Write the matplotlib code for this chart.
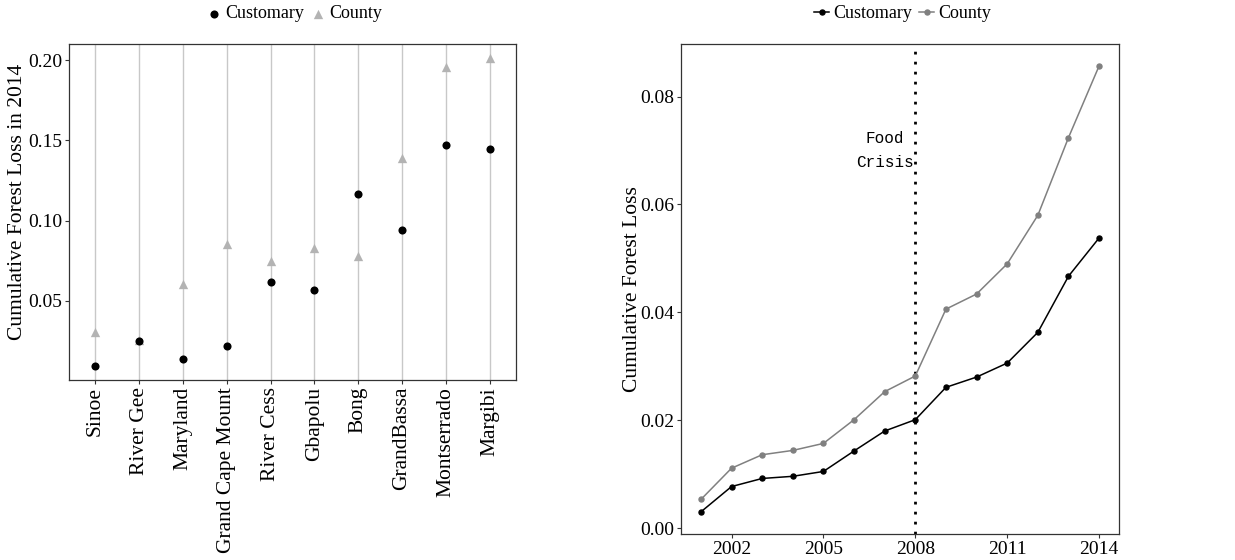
import matplotlib.pyplot as plt
import numpy as np

# left panel: cumulative forest loss in 2014 by county
counties = ["Sinoe", "River Gee", "Maryland", "Grand Cape Mount", "River Cess",
            "Gbapolu", "Bong", "GrandBassa", "Montserrado", "Margibi"]
loss_customary = [0.0096, 0.0252, 0.0140, 0.0215, 0.0614, 0.0564, 0.1163, 0.0938, 0.1468, 0.1443]
loss_county = [0.0306, 0.0255, 0.0606, 0.0853, 0.0747, 0.0828, 0.0780, 0.1389, 0.1954, 0.2010]

# right panel: cumulative forest loss over time
years = list(range(2001, 2015))
cum_customary = [0.0030, 0.0077, 0.0092, 0.0096, 0.0105, 0.0143, 0.0180, 0.0201,
                 0.0261, 0.0280, 0.0306, 0.0363, 0.0467, 0.0538]
cum_county = [0.0053, 0.0111, 0.0136, 0.0144, 0.0157, 0.0201, 0.0253, 0.0282,
              0.0406, 0.0434, 0.0490, 0.0580, 0.0724, 0.0857]
crisis_year = 2008

plt.rcParams['font.family'] = ['Liberation Serif', 'DejaVu Serif']
plt.rcParams['xtick.major.size'] = 3
plt.rcParams['ytick.major.size'] = 3
plt.rcParams['xtick.color'] = '#333333'
plt.rcParams['ytick.color'] = '#333333'
plt.rcParams['xtick.labelcolor'] = 'black'
plt.rcParams['ytick.labelcolor'] = 'black'

TICK = 14
LAB = 15.5
frame = '#333333'

fig = plt.figure(figsize=(12.35, 5.6), dpi=100)

# ---- left panel ----
ax1 = fig.add_axes([0.0559, 0.3214, 0.3619, 0.5995])
x = np.arange(1, len(counties) + 1)
ax1.set_xticks(x)
ax1.set_xticklabels(counties, rotation=90, fontsize=LAB)
ax1.xaxis.grid(True, color='#c8c8c8', lw=1.0)
ax1.set_axisbelow(True)
h_cty = ax1.scatter(x, loss_county, marker='^', s=45, color='#b3b3b3', lw=0, label='County', zorder=2)
h_cus = ax1.scatter(x, loss_customary, marker='o', s=34, color='black', lw=0, label='Customary', zorder=3)
ax1.set_xlim(0.4, 10.6)
ax1.set_ylim(0.0006, 0.2098)
ax1.set_yticks([0.05, 0.10, 0.15, 0.20])
ax1.set_yticklabels(['0.05', '0.10', '0.15', '0.20'])
ax1.tick_params(axis='y', labelsize=TICK, pad=2)
ax1.tick_params(axis='x', pad=2)
ax1.set_ylabel('Cumulative Forest Loss in 2014', fontsize=LAB)
ax1.yaxis.set_label_coords(-0.093, 0.53)
for s in ax1.spines.values():
    s.set_color(frame)
    s.set_linewidth(0.9)

fig.legend([h_cus, h_cty], ['Customary', 'County'], loc='center',
           bbox_to_anchor=(0.239, 0.975), ncol=2, frameon=False,
           fontsize=13, handlelength=0.6, handletextpad=0.3,
           columnspacing=0.5, borderpad=0)

# ---- right panel ----
ax2 = fig.add_axes([0.5514, 0.0464, 0.3547, 0.8745])
l_cus, = ax2.plot(years, cum_customary, color='black', lw=1.1, marker='o', ms=3.6, label='Customary')
l_cty, = ax2.plot(years, cum_county, color='#808080', lw=1.1, marker='o', ms=3.6, label='County')
ax2.axvline(crisis_year, color='black', lw=2, linestyle=(0, (1, 2.6)), dash_capstyle='butt', zorder=1)
ax2.text(2007.0, 0.0700, 'Food\nCrisis', family=['Liberation Mono', 'DejaVu Sans Mono'],
         fontsize=11.5, ha='center', va='center', multialignment='center', linespacing=1.75)
ax2.set_xlim(2000.35, 2014.65)
ax2.set_ylim(-0.0011, 0.0897)
ax2.set_xticks([2002, 2005, 2008, 2011, 2014])
ax2.set_yticks([0.00, 0.02, 0.04, 0.06, 0.08])
ax2.set_yticklabels(['0.00', '0.02', '0.04', '0.06', '0.08'])
ax2.tick_params(axis='both', labelsize=TICK, pad=2)
ax2.set_ylabel('Cumulative Forest Loss', fontsize=LAB)
ax2.yaxis.set_label_coords(-0.09, 0.5)
for s in ax2.spines.values():
    s.set_color(frame)
    s.set_linewidth(0.9)

fig.legend([l_cus, l_cty], ['Customary', 'County'], loc='center',
           bbox_to_anchor=(0.731, 0.975), ncol=2, frameon=False,
           fontsize=13, handlelength=0.8, handletextpad=0.25,
           columnspacing=0.4, borderpad=0)

fig.savefig('out.png', dpi=100)
